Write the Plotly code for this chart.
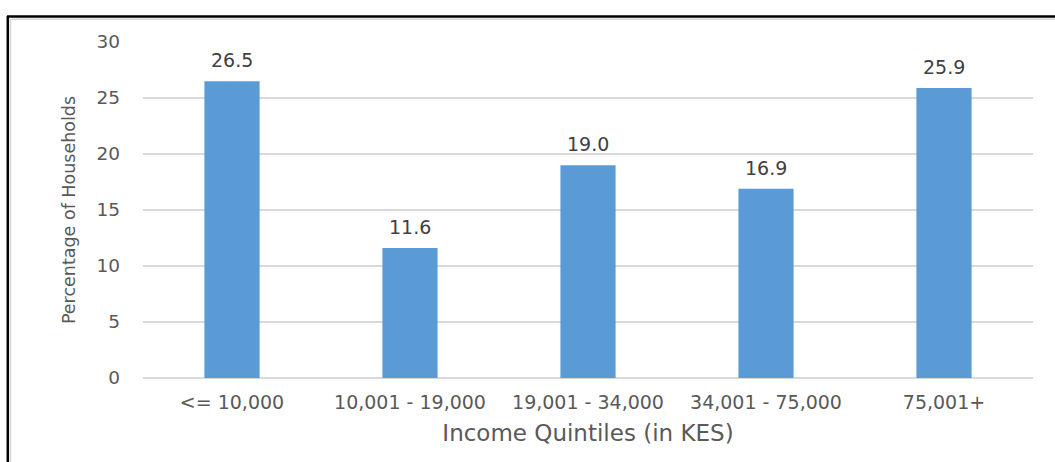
import plotly.graph_objects as go

# Share of households by monthly income band
categories = ["<= 10,000", "10,001 - 19,000", "19,001 - 34,000", "34,001 - 75,000", "75,001+"]
percentages = [26.5, 11.6, 19.0, 16.9, 25.9]
y_ticks = [0, 5, 10, 15, 20, 25, 30]

W, H = 1055, 462
L, R, T, B = 143, 22, 42, 84
PW, PH = W - L - R, H - T - B


def px_x(px):
    return (px - L) / PW


def px_y(py):
    return (H - B - py) / PH


FONT = "DejaVu Sans"
GREY = "#595959"

fig = go.Figure(
    go.Bar(
        x=categories,
        y=percentages,
        marker=dict(color="#5B9BD5", line=dict(width=0)),
        width=0.31,
        hoverinfo="x+y",
    )
)

for cat, val in zip(categories, percentages):
    fig.add_annotation(
        x=cat, y=val, text=f"{val:.1f}", showarrow=False,
        yanchor="bottom", yshift=8,
        font=dict(family=FONT, size=19, color="#404040"),
    )

# outer frame: dark top/left edge with a pale inner line
fig.add_shape(type="line", xref="paper", yref="paper",
              x0=px_x(7), x1=px_x(1056), y0=px_y(16.5), y1=px_y(16.5),
              line=dict(color="#000000", width=2.5))
fig.add_shape(type="line", xref="paper", yref="paper",
              x0=px_x(7.8), x1=px_x(7.8), y0=px_y(16), y1=px_y(463),
              line=dict(color="#000000", width=2.5))
fig.add_shape(type="line", xref="paper", yref="paper",
              x0=px_x(10.5), x1=px_x(1056), y0=px_y(19.2), y1=px_y(19.2),
              line=dict(color="#D4D4D4", width=1.5))
fig.add_shape(type="line", xref="paper", yref="paper",
              x0=px_x(10.5), x1=px_x(10.5), y0=px_y(19), y1=px_y(463),
              line=dict(color="#D4D4D4", width=1.5))

fig.update_layout(
    width=W, height=H,
    margin=dict(l=L, r=R, t=T, b=B),
    paper_bgcolor="white", plot_bgcolor="white",
    showlegend=False,
    font=dict(family=FONT, color=GREY),
    xaxis=dict(
        tickfont=dict(family=FONT, size=19, color=GREY),
        showgrid=False, showline=False, zeroline=False,
        ticks="", ticklabelstandoff=11,
        title=dict(text="Income Quintiles (in KES)",
                   font=dict(family=FONT, size=23, color=GREY), standoff=12),
    ),
    yaxis=dict(
        range=[0, 30], tickvals=y_ticks,
        tickfont=dict(family=FONT, size=18.5, color=GREY),
        showgrid=True, gridcolor="#D9D9D9", gridwidth=2,
        zeroline=True, zerolinecolor="#D9D9D9", zerolinewidth=2,
        showline=False, ticks="", ticklabelstandoff=22,
        title=dict(text="Percentage of Households",
                   font=dict(family=FONT, size=17.5, color=GREY), standoff=16),
    ),
)

fig.write_html("out.html")
